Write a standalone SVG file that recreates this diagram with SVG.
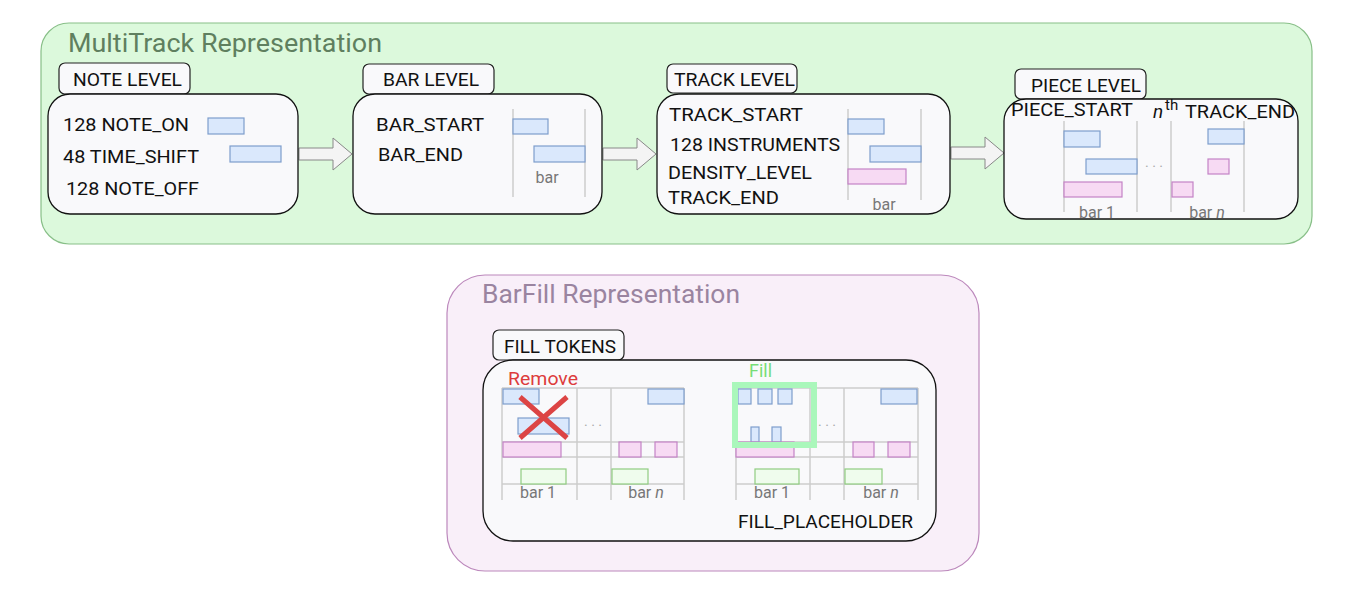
<svg xmlns="http://www.w3.org/2000/svg" width="1354" height="602" viewBox="0 0 1354 602">
<defs>
<style>
text{font-family:Roboto,"Liberation Sans",sans-serif;}
.t{font-size:19px;fill:#111;}
.lbl{fill:#f9f9fb;stroke:#222;stroke-width:1.2;}
.node{fill:#f9f9fb;stroke:#111;stroke-width:1.3;}
.bl{fill:#dae8fc;stroke:#7e9dcc;stroke-width:1.2;}
.pk{fill:#f7daf3;stroke:#c383c6;stroke-width:1.2;}
.gr{fill:#effced;stroke:#8fcc80;stroke-width:1.2;}
.gl{stroke:#cccccc;stroke-width:1.5;fill:none;}
.cap{font-size:16px;fill:#777;text-anchor:middle;}
.dots{font-size:14px;fill:#aaa;text-anchor:middle;}
.arr{fill:#f4f4f4;stroke:#888;stroke-width:1;}
</style>
</defs>
<rect width="1354" height="602" fill="#ffffff"/>

<g id="multitrack">
<rect x="41" y="23" width="1271" height="221" rx="28" fill="#dcf9dc" stroke="#88bf88" stroke-width="1.2"/>
<text x="68" y="52" font-size="25" fill="#5f7f5f" textLength="314" lengthAdjust="spacingAndGlyphs">MultiTrack Representation</text>
</g>

<g id="barfill">
<rect x="447" y="275" width="532" height="296" rx="38" fill="#f9eff9" stroke="#bc88bc" stroke-width="1.2"/>
<text x="482" y="303" font-size="25" fill="#9a84a0" textLength="258" lengthAdjust="spacingAndGlyphs">BarFill Representation</text>
</g>

<g id="connectors">
<path class="arr" d="M299,148 H333 V138 L352,154 L333,170 V160 H299 Z"/>
<path class="arr" d="M603,148 H637 V138 L656,154 L637,170 V160 H603 Z"/>
<path class="arr" d="M951,147 H985 V137 L1004,153 L985,169 V159 H951 Z"/>
</g>

<g id="note-level">
<rect class="lbl" x="59" y="63" width="131" height="31" rx="6"/>
<text class="t" x="73" y="86" textLength="109" lengthAdjust="spacingAndGlyphs">NOTE LEVEL</text>
<rect class="node" x="48" y="94" width="250" height="120" rx="22"/>
<text class="t" x="63" y="131" textLength="126" lengthAdjust="spacingAndGlyphs">128 NOTE_ON</text>
<text class="t" x="63" y="163" textLength="136" lengthAdjust="spacingAndGlyphs">48 TIME_SHIFT</text>
<text class="t" x="66" y="195" textLength="133" lengthAdjust="spacingAndGlyphs">128 NOTE_OFF</text>
<rect class="bl" x="208" y="118" width="36" height="16"/>
<rect class="bl" x="230" y="146" width="51" height="16"/>
</g>

<g id="bar-level">
<rect class="lbl" x="363" y="64" width="131" height="30" rx="6"/>
<text class="t" x="383" y="86" textLength="96" lengthAdjust="spacingAndGlyphs">BAR LEVEL</text>
<rect class="node" x="353" y="94" width="249" height="120" rx="22"/>
<text class="t" x="376" y="131" textLength="108" lengthAdjust="spacingAndGlyphs">BAR_START</text>
<text class="t" x="378" y="161" textLength="85" lengthAdjust="spacingAndGlyphs">BAR_END</text>
<line class="gl" x1="513" y1="109" x2="513" y2="197"/>
<line class="gl" x1="585" y1="109" x2="585" y2="197"/>
<rect class="bl" x="513" y="119" width="35" height="15"/>
<rect class="bl" x="534" y="146" width="51" height="16"/>
<text class="cap" x="547" y="183">bar</text>
</g>

<g id="track-level">
<rect class="lbl" x="667" y="64" width="130" height="29" rx="6"/>
<text class="t" x="674" y="86" textLength="121" lengthAdjust="spacingAndGlyphs">TRACK LEVEL</text>
<rect class="node" x="657" y="94" width="293" height="120" rx="22"/>
<text class="t" x="669" y="121" textLength="134" lengthAdjust="spacingAndGlyphs">TRACK_START</text>
<text class="t" x="670" y="151" textLength="170" lengthAdjust="spacingAndGlyphs">128 INSTRUMENTS</text>
<text class="t" x="668" y="179" textLength="144" lengthAdjust="spacingAndGlyphs">DENSITY_LEVEL</text>
<text class="t" x="668" y="204" textLength="111" lengthAdjust="spacingAndGlyphs">TRACK_END</text>
<line class="gl" x1="848" y1="109" x2="848" y2="200"/>
<line class="gl" x1="921" y1="109" x2="921" y2="200"/>
<rect class="bl" x="848" y="119" width="36" height="15"/>
<rect class="bl" x="870" y="146" width="51" height="16"/>
<rect class="pk" x="848" y="169" width="58" height="15"/>
<text class="cap" x="884" y="210">bar</text>
</g>

<g id="piece-level">
<rect class="lbl" x="1015" y="69" width="131" height="30" rx="6"/>
<text class="t" x="1031" y="92" textLength="110" lengthAdjust="spacingAndGlyphs">PIECE LEVEL</text>
<rect class="node" x="1004" y="99" width="294" height="120" rx="22"/>
<line class="gl" x1="1064" y1="121" x2="1064" y2="212"/>
<line class="gl" x1="1137" y1="121" x2="1137" y2="212"/>
<line class="gl" x1="1171" y1="121" x2="1171" y2="212"/>
<line class="gl" x1="1244" y1="121" x2="1244" y2="212"/>
<rect class="bl" x="1064" y="131" width="36" height="16"/>
<rect class="bl" x="1086" y="159" width="51" height="15"/>
<rect class="pk" x="1064" y="182" width="58" height="15"/>
<rect class="bl" x="1208" y="129" width="36" height="15"/>
<rect class="pk" x="1208" y="159" width="21" height="15"/>
<rect class="pk" x="1172" y="182" width="21" height="15"/>
<text class="dots" x="1154" y="172">· · ·</text>
<text class="cap" x="1097" y="218">bar 1</text>
<text class="cap" x="1207" y="218">bar <tspan font-style="italic">n</tspan></text>
<text class="t" x="1011" y="116" textLength="122" lengthAdjust="spacingAndGlyphs">PIECE_START</text>
<text class="t" x="1153" y="118" font-style="italic">n</text>
<text x="1165" y="110" font-size="15" fill="#111">th</text>
<text class="t" x="1185" y="118" textLength="110" lengthAdjust="spacingAndGlyphs">TRACK_END</text>
</g>

<g id="fill-tokens">
<rect class="lbl" x="493" y="330" width="131" height="30" rx="6"/>
<text class="t" x="504" y="353" textLength="112" lengthAdjust="spacingAndGlyphs">FILL TOKENS</text>
<rect class="node" x="483" y="360" width="453" height="181" rx="30"/>
<text x="508" y="385" font-size="19" fill="#dd3c3c" textLength="70" lengthAdjust="spacingAndGlyphs">Remove</text>
<text x="749" y="377" font-size="19" fill="#77dd77" textLength="23" lengthAdjust="spacingAndGlyphs">Fill</text>
<text class="t" x="738" y="528" textLength="175" lengthAdjust="spacingAndGlyphs">FILL_PLACEHOLDER</text>

<!-- left grid -->
<g class="gl">
<line x1="502" y1="388" x2="502" y2="500"/>
<line x1="577" y1="388" x2="577" y2="500"/>
<line x1="611" y1="388" x2="611" y2="500"/>
<line x1="684" y1="388" x2="684" y2="500"/>
<line x1="502" y1="388" x2="684" y2="388"/>
<line x1="502" y1="442" x2="684" y2="442"/>
<line x1="502" y1="457" x2="684" y2="457"/>
<line x1="502" y1="484" x2="684" y2="484"/>
</g>
<rect class="bl" x="503" y="389" width="36" height="15"/>
<rect class="bl" x="518" y="418" width="51" height="16"/>
<rect class="bl" x="648" y="389" width="36" height="15"/>
<rect class="pk" x="503" y="442" width="58" height="15"/>
<rect class="pk" x="619" y="442" width="22" height="15"/>
<rect class="pk" x="655" y="442" width="22" height="15"/>
<rect class="gr" x="521" y="469" width="45" height="15"/>
<rect class="gr" x="612" y="469" width="36" height="15"/>
<text class="dots" x="593" y="431">· · ·</text>
<path d="M520,397 L567,438 M567,397 L520,438" stroke="#dc4444" stroke-width="5" fill="none"/>
<text class="cap" x="538" y="498">bar 1</text>
<text class="cap" x="646" y="498">bar <tspan font-style="italic">n</tspan></text>

<!-- right grid -->
<g class="gl">
<line x1="736" y1="388" x2="736" y2="500"/>
<line x1="810" y1="388" x2="810" y2="500"/>
<line x1="844" y1="388" x2="844" y2="500"/>
<line x1="918" y1="388" x2="918" y2="500"/>
<line x1="736" y1="388" x2="918" y2="388"/>
<line x1="736" y1="442" x2="918" y2="442"/>
<line x1="736" y1="457" x2="918" y2="457"/>
<line x1="736" y1="484" x2="918" y2="484"/>
</g>
<rect class="bl" x="738" y="389" width="13" height="15"/>
<rect class="bl" x="758" y="389" width="14" height="15"/>
<rect class="bl" x="778" y="389" width="14" height="15"/>
<rect class="bl" x="751" y="427" width="8" height="15"/>
<rect class="bl" x="772" y="427" width="9" height="15"/>
<rect class="bl" x="881" y="389" width="36" height="15"/>
<rect class="pk" x="736" y="442" width="58" height="15"/>
<rect class="pk" x="853" y="442" width="21" height="15"/>
<rect class="pk" x="888" y="442" width="22" height="15"/>
<rect class="gr" x="755" y="469" width="44" height="15"/>
<rect class="gr" x="845" y="469" width="37" height="15"/>
<text class="dots" x="827" y="431">· · ·</text>
<rect x="735" y="385" width="79" height="60" fill="none" stroke="#aaf7bb" stroke-width="6"/>
<text class="cap" x="772" y="498">bar 1</text>
<text class="cap" x="881" y="498">bar <tspan font-style="italic">n</tspan></text>
</g>
</svg>
